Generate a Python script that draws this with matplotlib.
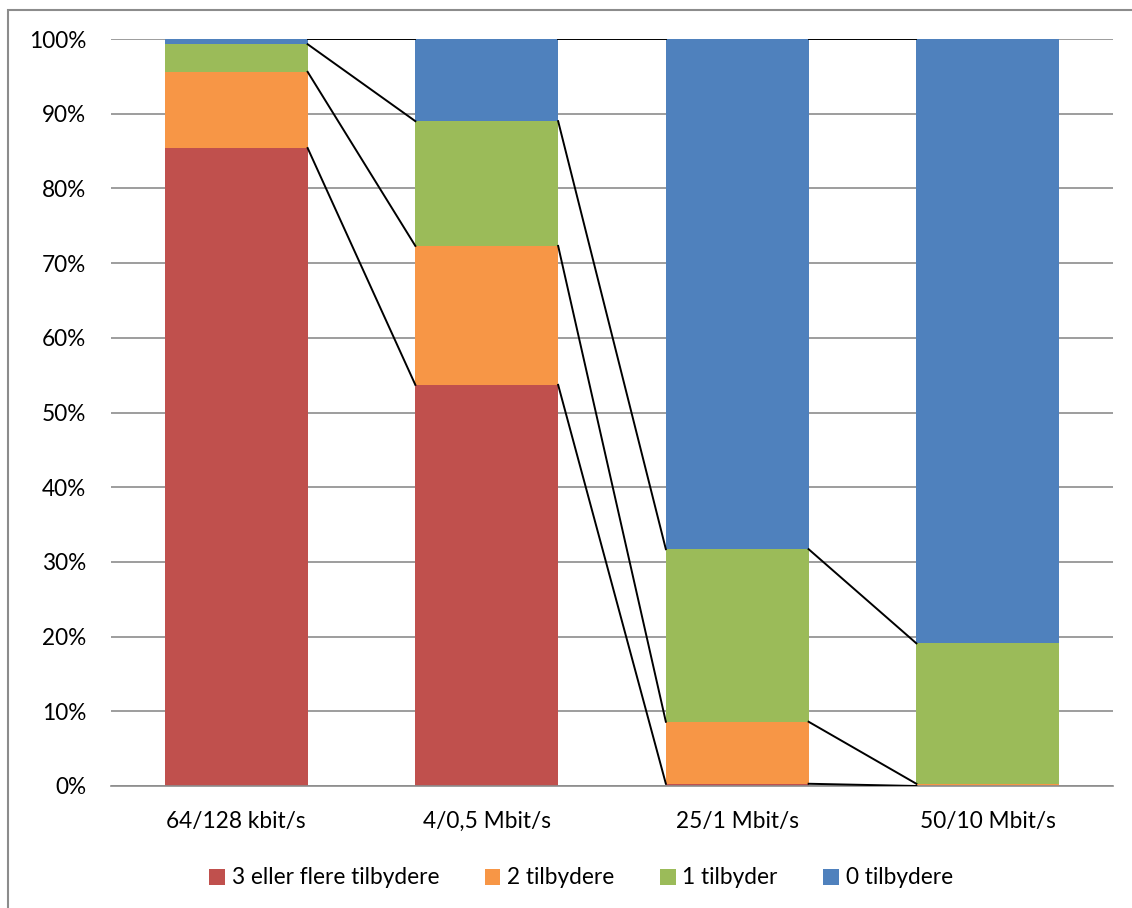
import matplotlib
matplotlib.use("Agg")
import matplotlib.pyplot as plt
import numpy as np
from matplotlib.patches import Rectangle

categories = ["64/128 kbit/s", "4/0,5 Mbit/s", "25/1 Mbit/s", "50/10 Mbit/s"]
series_names = ["3 eller flere tilbydere", "2 tilbydere", "1 tilbyder", "0 tilbydere"]
s3 = [85.4, 53.7, 0.3, 0.0]
s2 = [10.2, 18.6, 8.3, 0.3]
s1 = [3.7, 16.7, 23.1, 18.8]
s0 = [0.7, 11.0, 68.3, 80.9]
colors = ["#C0504D", "#F79646", "#9BBB59", "#4F81BD"]

plt.rcParams['font.family'] = ['Lato', 'DejaVu Sans']

fig = plt.figure(figsize=(11.32, 9.08), dpi=100)
ax = fig.add_axes([111/1132, 1-786/908, (1113-111)/1132, (786-39)/908])

x = np.arange(len(categories))
w = 0.57
data = [s3, s2, s1, s0]
bottom = np.zeros(len(categories))
tops = []
for vals, c, name in zip(data, colors, series_names):
    vals = np.array(vals)
    ax.bar(x, vals, w, bottom=bottom, color=c, label=name, zorder=2, linewidth=0)
    bottom = bottom + vals
    tops.append(bottom.copy())

# series lines
for t in tops:
    for i in range(len(categories) - 1):
        ax.plot([x[i] + w/2, x[i+1] - w/2], [t[i], t[i+1]], color='black', lw=1.4, zorder=3)

ax.set_xlim(-0.5, 3.5)
ax.set_ylim(0, 100)
ax.set_yticks(np.arange(0, 101, 10))
ax.set_yticklabels([f"{v}%" for v in range(0, 101, 10)], fontsize=16.3)
ax.set_xticks(x)
ax.set_xticklabels(categories, fontsize=16.3)
ax.tick_params(axis='y', length=0, pad=18)
ax.tick_params(axis='x', length=0, pad=18)
ax.yaxis.grid(True, color='#8C8C8C', lw=1.2, zorder=0)
ax.set_axisbelow(True)
for s in ['top', 'right', 'left']:
    ax.spines[s].set_visible(False)
ax.spines['bottom'].set_color('#8C8C8C')
ax.spines['bottom'].set_linewidth(1.2)

handles, labels = ax.get_legend_handles_labels()
leg = fig.legend(handles, labels, loc='center', bbox_to_anchor=(581/1132, 1-878/908), ncol=4,
                 frameon=False, fontsize=16.3, handlelength=0.7, handleheight=0.7,
                 handletextpad=0.3, columnspacing=2.0)

fig.patches.append(Rectangle((8/1132, -0.1), 1.2, 1 - 10/908 + 0.1, transform=fig.transFigure,
                             fill=False, edgecolor='#8C8C8C', lw=1.5))

fig.savefig("out.png", dpi=100)
